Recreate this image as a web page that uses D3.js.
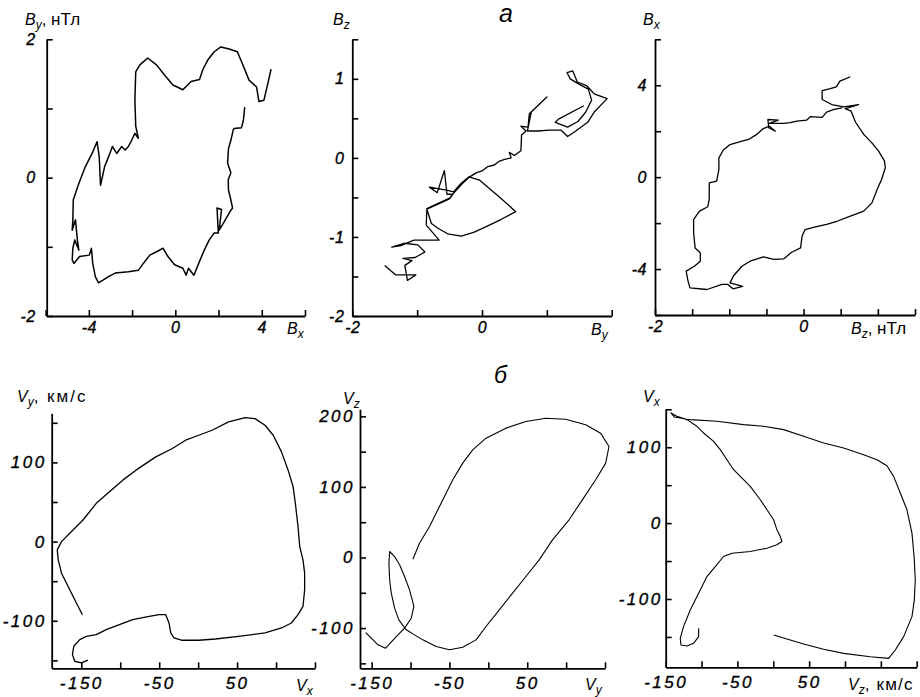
<!DOCTYPE html>
<html>
<head>
<meta charset="utf-8">
<script src="https://cdn.jsdelivr.net/npm/d3@7"></script>
<style>
body { margin: 0; background: #fff; }
svg { display: block; font-family: "Liberation Sans", Arial, sans-serif; }
</style>
</head>
<body>
<script>
// hodographs, magnetic field (a) and velocity (б)

// Bx - By, нТл
var curveBxBy = [[4.43,1.57],[4.25,1.32],[4.10,1.12],[3.87,1.10],[3.76,1.31],[3.41,1.41],[3.10,1.65],[2.87,1.82],
  [2.49,1.86],[2.11,1.89],[1.80,1.82],[1.50,1.70],[1.27,1.56],[1.12,1.42],[0.73,1.39],[0.35,1.27],[-0.11,1.34],
  [-0.49,1.48],[-0.87,1.63],[-1.28,1.73],[-1.64,1.63],[-1.83,1.53],[-1.87,1.12],[-1.83,0.74],[-1.71,0.57],
  [-1.87,0.64],[-2.02,0.54],[-2.17,0.45],[-2.32,0.40],[-2.48,0.45],[-2.71,0.35],[-2.91,0.45],[-3.09,0.30],
  [-3.27,0.16],[-3.46,-0.11],[-3.52,0.30],[-3.62,0.52],[-3.85,0.35],[-4.16,0.16],[-4.46,-0.08],[-4.72,-0.32],
  [-4.74,-0.61],[-4.77,-0.76],[-4.62,-0.61],[-4.53,-0.90],[-4.46,-1.05],[-4.65,-0.90],[-4.74,-1.02],[-4.77,-1.19],
  [-4.69,-1.24],[-4.43,-1.14],[-3.98,-1.12],[-3.88,-1.02],[-3.82,-1.24],[-3.70,-1.43],[-3.55,-1.52],[-3.09,-1.43],
  [-2.78,-1.38],[-2.17,-1.36],[-1.71,-1.34],[-1.48,-1.24],[-1.18,-1.12],[-0.80,-1.06],[-0.57,-1.02],[-0.34,-1.14],
  [-0.03,-1.26],[0.35,-1.31],[0.50,-1.41],[0.61,-1.31],[0.86,-1.41],[1.12,-1.21],[1.35,-1.04],[1.57,-0.90],
  [1.80,-0.80],[1.99,-0.80],[1.93,-0.44],[2.14,-0.46],[2.03,-0.76],[2.26,-0.64],[2.57,-0.47],[2.65,-0.44],
  [2.57,-0.32],[2.46,-0.18],[2.45,-0.03],[2.57,0.07],[2.42,0.21],[2.46,0.42],[2.57,0.54],[2.68,0.69],[2.72,0.71],
  [3.06,0.72],[3.15,0.83],[3.21,1.02]];

// By - Bz
var curveByBz = [[-1.50,-1.36],[-1.33,-1.48],[-1.02,-1.48],[-1.15,-1.55],[-1.19,-1.36],[-1.08,-1.30],[-1.22,-1.27],
  [-1.03,-1.26],[-0.88,-1.19],[-0.99,-1.10],[-1.20,-1.08],[-1.39,-1.13],[-1.25,-1.11],[-1.05,-1.04],[-0.66,-1.04],
  [-0.86,-0.85],[-0.85,-0.64],[-0.50,-0.51],[-0.45,-0.46],[-0.54,-0.46],[-0.58,-0.16],[-0.69,-0.44],[-0.81,-0.37],
  [-0.53,-0.41],[-0.44,-0.43],[-0.32,-0.32],[-0.20,-0.24],[-0.04,-0.28],[0.29,-0.51],[0.52,-0.68],[0.29,-0.78],
  [0.09,-0.86],[-0.12,-0.94],[-0.32,-0.99],[-0.53,-0.96],[-0.68,-0.89],[-0.78,-0.83],[-0.85,-0.65],[-0.50,-0.52],
  [-0.43,-0.44],[-0.31,-0.33],[-0.19,-0.24],[-0.09,-0.19],[0.01,-0.16],[0.09,-0.11],[0.19,-0.09],[0.27,-0.04],
  [0.35,-0.02],[0.45,0.00],[0.42,0.07],[0.50,0.03],[0.60,0.09],[0.61,0.29],[0.68,0.34],[0.60,0.40],[0.71,0.39],
  [0.73,0.56],[1.00,0.77],[0.76,0.58],[0.70,0.34],[0.86,0.34],[1.04,0.35],[1.22,0.35],[1.32,0.27],[1.43,0.33],
  [1.63,0.45],[1.73,0.58],[1.93,0.75],[1.73,0.81],[1.62,0.91],[1.47,0.96],[1.40,1.10],[1.31,1.08],[1.36,1.00],
  [1.50,0.93],[1.64,0.87],[1.69,0.73],[1.60,0.58],[1.48,0.46],[1.32,0.39],[1.13,0.45],[1.18,0.49],[1.57,0.66]];

// Bz - Bx
var curveBzBx = [[0.63,4.37],[0.49,4.18],[0.44,3.93],[0.36,3.85],[0.25,3.77],[0.25,3.38],[0.38,3.16],[0.54,3.06],
  [0.74,3.16],[0.56,2.98],[0.64,2.87],[0.70,2.39],[0.81,1.86],[0.92,1.49],[1.01,1.13],[1.09,0.70],[1.10,0.41],
  [1.05,-0.10],[0.99,-0.54],[0.92,-1.12],[0.81,-1.48],[0.63,-1.70],[0.45,-1.92],[0.31,-2.06],[0.16,-2.16],
  [0.02,-2.28],[-0.02,-2.57],[-0.04,-3.08],[-0.16,-3.27],[-0.27,-3.56],[-0.40,-3.58],[-0.54,-3.47],[-0.72,-3.66],
  [-0.83,-3.88],[-0.94,-4.28],[-0.99,-4.60],[-0.82,-4.75],[-0.95,-4.86],[-1.02,-4.67],[-1.10,-4.67],[-1.30,-4.89],
  [-1.53,-4.82],[-1.56,-4.46],[-1.58,-4.09],[-1.47,-3.88],[-1.39,-3.66],[-1.39,-3.29],[-1.46,-3.08],[-1.48,-2.42],
  [-1.48,-1.84],[-1.40,-1.48],[-1.29,-1.29],[-1.27,-0.97],[-1.27,-0.25],[-1.17,-0.17],[-1.14,0.33],[-1.14,0.84],
  [-1.08,1.18],[-0.99,1.42],[-0.83,1.57],[-0.74,1.64],[-0.63,1.86],[-0.55,2.10],[-0.46,2.22],[-0.38,2.00],
  [-0.47,2.15],[-0.48,2.51],[-0.34,2.48],[-0.46,2.34],[-0.27,2.34],[-0.18,2.37],[-0.09,2.44],[0.04,2.48],
  [0.09,2.63],[0.25,2.60],[0.31,2.83],[0.41,2.95],[0.52,3.02]];

// Vx - Vy, км/с
var curveVxVy = [[-148.6,-92.3],[-156.3,-77.6],[-164.8,-60.8],[-175.4,-39.9],[-179.6,-23.1],[-180.9,-10.5],
  [-175.4,0],[-164.8,10.5],[-147.8,27.3],[-130.8,48.3],[-113.8,62.9],[-96.8,77.6],[-79.8,90.2],[-54.4,107.0],
  [-33.1,117.5],[-16.1,128.0],[0.8,134.3],[17.8,140.6],[39.1,151.1],[60.3,156.5],[73.0,155.3],[85.8,146.9],
  [96.4,134.3],[107.0,113.3],[115.5,90.2],[121.9,69.2],[124.8,48.3],[128.2,18.9],[130.4,-6.3],[134.6,-23.1],
  [136.7,-39.9],[136.7,-60.8],[134.6,-81.8],[128.2,-92.3],[119.7,-102.8],[107.0,-109.1],[85.8,-115.4],
  [51.8,-119.6],[22.1,-123.0],[0.8,-124.6],[-20.4,-124.6],[-31.0,-121.7],[-35.2,-115.4],[-37.4,-102.8],
  [-41.6,-92.3],[-50.1,-92.3],[-62.8,-94.4],[-84.1,-98.6],[-101.1,-104.9],[-118.0,-111.2],[-130.8,-117.5],
  [-143.5,-119.6],[-152.0,-123.8],[-159.7,-132.2],[-161.4,-142.7],[-158.4,-151.1],[-149.9,-153.2],[-141.4,-149.8]];

// Vy - Vz
var curveVyVz = [[-97.0,-2.4],[-88.5,20.3],[-75.6,43.9],[-62.8,72.3],[-45.7,110.1],[-32.9,133.7],[-20.1,152.6],
  [-3.0,169.1],[22.6,183.3],[48.3,192.7],[73.9,197.4],[99.6,196.0],[125.2,188.0],[144.4,176.2],[155.1,157.3],
  [150.9,133.7],[138.0,110.1],[120.9,81.7],[103.8,53.4],[82.5,25.0],[65.4,-3.3],[48.3,-26.9],[31.2,-50.5],
  [14.1,-74.2],[-3.0,-97.8],[-15.8,-116.7],[-32.9,-127.1],[-50.0,-130.8],[-67.1,-126.1],[-84.2,-116.7],
  [-97.0,-108.2],[-106.4,-101.6],[-115.0,-88.3],[-120.5,-71.8],[-124.8,-50.5],[-126.9,-31.6],[-127.8,-8.0],
  [-126.9,8.5],[-120.5,1.4],[-114.1,-10.4],[-107.7,-26.9],[-101.3,-45.8],[-95.7,-69.4],[-99.1,-86.0],
  [-107.7,-100.1],[-118.4,-112.0],[-132.1,-128.5],[-141.9,-123.8],[-150.4,-114.3],[-157.7,-106.3]];

// Vz - Vx
var curveVzVx = [[-104.1,-138.6],[-104.1,-149.6],[-111.1,-158.4],[-120.4,-161.9],[-128.8,-160.6],[-129.7,-151.8],
  [-125.1,-136.4],[-115.8,-114.4],[-104.1,-92.4],[-92.5,-70.4],[-80.9,-57.2],[-69.3,-44.0],[-57.6,-39.6],
  [-32.1,-37.4],[-8.8,-33.0],[5.1,-28.6],[12.1,-24.2],[9.8,-17.6],[5.1,-8.8],[0.5,4.4],[-8.8,17.6],[-18.1,30.8],
  [-32.1,48.4],[-46.0,61.6],[-55.3,70.4],[-64.6,83.6],[-73.9,96.8],[-83.2,107.8],[-97.2,118.8],[-106.5,127.6],
  [-120.4,136.4],[-134.4,140.8],[-142.7,145.2],[-138.1,139.9],[-115.8,136.4],[-78.6,134.2],[-41.4,129.8],
  [-13.5,127.6],[14.4,123.2],[42.3,114.4],[70.2,105.6],[98.1,99.0],[126.0,90.2],[144.6,83.6],[158.5,75.7],
  [167.8,61.6],[177.1,39.6],[186.4,17.6],[193.4,-13.2],[196.7,-48.4],[198.0,-74.8],[196.7,-101.2],[193.4,-123.2],
  [181.8,-149.6],[170.2,-167.2],[160.9,-178.2],[135.3,-176.0],[98.1,-171.6],[70.2,-166.3],[42.3,-159.3],
  [23.7,-154.0],[0.5,-147.4]];

// ticks and which of them carry a label
var ticksB6 = [-6, -4, -2, 0, 2, 4, 6];
var labelsB6 = [-4, 0, 4];
var ticksB2 = [-2, -1, 0, 1, 2];
var labelsB2 = [-2, 0, 2];
var ticksBhalf = [-2, -1.5, -1, -0.5, 0, 0.5, 1, 1.5];
var labelsBhalfX = [-2, 0];
var labelsBhalfY = [-2, -1, 0, 1];
var ticksV150 = [-150, -100, -50, 0, 50, 100, 150];
var ticksV200 = [-150, -100, -50, 0, 50, 100, 150, 200];
var labelsVx = [-150, -50, 50];
var labelsVy = [-100, 0, 100];
var labelsVy200 = [-100, 0, 100, 200];

var w = 920;
var h = 697;

var svg = d3.select("body")
            .append("svg")
            .attr("width", w)
            .attr("height", h);

function fmt(labels) {
  return function(d) {
    return labels.indexOf(d) >= 0 ? String(d) : "";
  };
}

function panel(o) {
  var x = d3.scaleLinear().domain(o.xDomain).range(o.xRange);
  var y = d3.scaleLinear().domain(o.yDomain).range(o.yRange);
  var g = svg.append("g");

  var ax = g.append("g")
    .attr("transform", "translate(0," + o.yRange[0] + ")")
    .call(d3.axisBottom(x).tickValues(o.xTicks).tickSize(-6).tickSizeOuter(0)
      .tickPadding(o.xPad).tickFormat(fmt(o.xLabels)));
  var ay = g.append("g")
    .attr("transform", "translate(" + o.xRange[0] + ",0)")
    .call(d3.axisLeft(y).tickValues(o.yTicks).tickSize(-6).tickSizeOuter(0)
      .tickPadding(o.yPad).tickFormat(fmt(o.yLabels)));

  [ax, ay].forEach(function(a) {
    a.attr("font-family", null).attr("font-size", null);
    a.select(".domain").attr("stroke-width", 1.8);
    a.selectAll(".tick line").attr("stroke-width", 1.6);
    a.selectAll(".tick text")
      .style("font-size", o.fontSize + "px")
      .style("font-style", "italic")
      .style("letter-spacing", o.spacing + "px")
      .attr("fill", "#000")
      .attr("stroke", "#000")
      .attr("stroke-width", 0.35);
  });

  g.append("path")
    .datum(o.data)
    .attr("d", d3.line().x(function(d) { return x(d[0]); }).y(function(d) { return y(d[1]); }))
    .attr("fill", "none")
    .attr("stroke", "#000")
    .attr("stroke-width", o.lineWidth)
    .attr("stroke-linejoin", "round");
}

// axis name: main letter, subscript, unit
function label(px, py, main, sub, unit, unitSpacing) {
  var t = svg.append("text").attr("x", px).attr("y", py).style("font-size", "16px");
  t.append("tspan").style("font-style", "italic").text(main);
  t.append("tspan").style("font-style", "italic").style("font-size", "12px").attr("dy", 4).text(sub);
  if (unit) {
    t.append("tspan").attr("dy", -4).style("font-size", "17px")
      .style("letter-spacing", (unitSpacing || 0) + "px").text(unit);
  }
}

panel({ data: curveBxBy, xDomain: [-5.95, 6], xRange: [46.7, 305], yDomain: [-2, 2], yRange: [316, 39.3],
        xTicks: ticksB6, xLabels: labelsB6, yTicks: ticksB2, yLabels: labelsB2,
        xPad: 6, yPad: 11, spacing: 0.5, fontSize: 16, lineWidth: 1.5 });
panel({ data: curveByBz, xDomain: [-2, 2], xRange: [352.3, 611.7], yDomain: [-2, 1.5], yRange: [316, 39.3],
        xTicks: ticksB2, xLabels: labelsBhalfX, yTicks: ticksBhalf, yLabels: labelsBhalfY,
        xPad: 6, yPad: 8, spacing: 0.5, fontSize: 16, lineWidth: 1.3 });
panel({ data: curveBzBx, xDomain: [-2, 1.5], xRange: [655, 915], yDomain: [-6, 6], yRange: [315, 39.3],
        xTicks: ticksBhalf, xLabels: labelsBhalfX, yTicks: ticksB6, yLabels: labelsB6,
        xPad: 6, yPad: 8, spacing: 0.5, fontSize: 16, lineWidth: 1.3 });

panel({ data: curveVxVy, xDomain: [-188, 150], xRange: [51.7, 315], yDomain: [-160, 162], yRange: [668.3, 413.3],
        xTicks: ticksV150, xLabels: labelsVx, yTicks: ticksV150, yLabels: labelsVy,
        xPad: 9, yPad: 5, spacing: 2.5, fontSize: 17, lineWidth: 1.3 });
panel({ data: curveVyVz, xDomain: [-165, 150], xRange: [360, 605], yDomain: [-157, 210], yRange: [668.3, 409.3],
        xTicks: ticksV150, xLabels: labelsVx, yTicks: ticksV200, yLabels: labelsVy200,
        xPad: 9, yPad: 5, spacing: 2.5, fontSize: 17, lineWidth: 1.1 });
panel({ data: curveVzVx, xDomain: [-150, 200], xRange: [665.7, 916.7], yDomain: [-190, 150], yRange: [667.3, 409.3],
        xTicks: ticksV200, xLabels: labelsVx, yTicks: ticksV150, yLabels: labelsVy,
        xPad: 9, yPad: 3, spacing: 2.5, fontSize: 17, lineWidth: 1.1 });

label(25, 25, "B", "y", ", нТл");
label(333, 25, "B", "z");
label(643, 25, "B", "x");
label(287, 334, "B", "x");
label(591, 335, "B", "y");
label(851, 334, "B", "z", ", нТл");

label(17, 402, "V", "y", ", км/с", 2);
label(343, 404, "V", "z");
label(643, 402, "V", "x");
label(296, 691, "V", "x");
label(585, 690, "V", "y");
label(848, 690, "V", "z", ", км/с", 1.2);

svg.append("text").attr("x", 499).attr("y", 22).style("font-size", "25px").style("font-style", "italic").text("а");
svg.append("text").attr("x", 494).attr("y", 383).style("font-size", "23px").style("font-style", "italic").text("б");
</script>
</body>
</html>
